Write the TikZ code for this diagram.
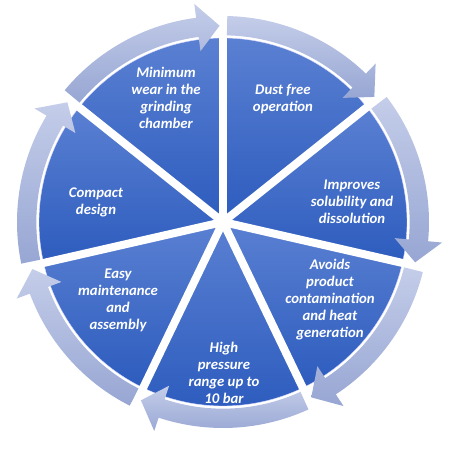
\documentclass[tikz,border=0pt]{standalone}
\usepackage{fontspec}
\setmainfont{Carlito}
\definecolor{sectop}{HTML}{5A80D2}
\definecolor{secbot}{HTML}{2D5CBE}
\definecolor{ringtop}{HTML}{C4CDE9}
\definecolor{ringbot}{HTML}{97A6D3}

\begin{document}
\begin{tikzpicture}[
    sector/.style = {top color=sectop, bottom color=secbot, draw=blue!15, line width=0.3pt},
    loop/.style = {top color=ringtop, bottom color=ringbot},
    gap/.style = {white, line width=0.24cm},
    txt/.style = {text=white, font=\bfseries\itshape\fontsize{12.6}{14.5}\selectfont, align=center}]
  \useasboundingbox (-6.69,-6.84) rectangle (6.81,6.66);
  % sectors
  \foreach \a in {0,...,6} {
    \pgfmathsetmacro\s{90-\a*360/7}
    \pgfmathsetmacro\e{\s-360/7}
    \shade[sector] (0,0) -- (\s:5.52) arc[start angle=\s, end angle=\e, radius=5.52] -- cycle;
  }
  \foreach \a in {0,...,6}
    \draw[gap] (0,0) -- ({90-\a*360/7}:5.7);
  % ring arrows
  \foreach \a in {0,...,6} {
    \pgfmathsetmacro\s{90-\a*360/7-1.2}
    \pgfmathsetmacro\t{90-(\a+1)*360/7+1}
    \pgfmathsetmacro\c{\t+6.5}
    \shade[loop] (\s:6.18) arc[start angle=\s, end angle=\c, radius=6.18]
      -- (\c:6.6) -- (\t:5.89) -- (\c:5.17) -- (\c:5.6)
      arc[start angle=\c, end angle=\s, radius=5.6] -- cycle;
  }
  %
  \node[txt] (wear) at (-1.71,3.72) {Minimum\\wear in the\\grinding\\chamber};
  \node[txt] (dust) at (1.80,3.69) {Dust free\\operation};
  \node[txt] (solub) at (3.87,0.60) {Improves\\solubility and\\dissolution};
  \node[txt] (heat) at (3.21,-2.34) {Avoids\\product\\contamination\\and heat\\generation};
  \node[txt] (press) at (0.03,-4.53) {High\\pressure\\range up to\\10 bar};
  \node[txt] (easy) at (-3.15,-2.34) {Easy\\maintenance\\and\\assembly};
  \node[txt] (compact) at (-3.81,0.60) {Compact\\design};
\end{tikzpicture}
\end{document}
